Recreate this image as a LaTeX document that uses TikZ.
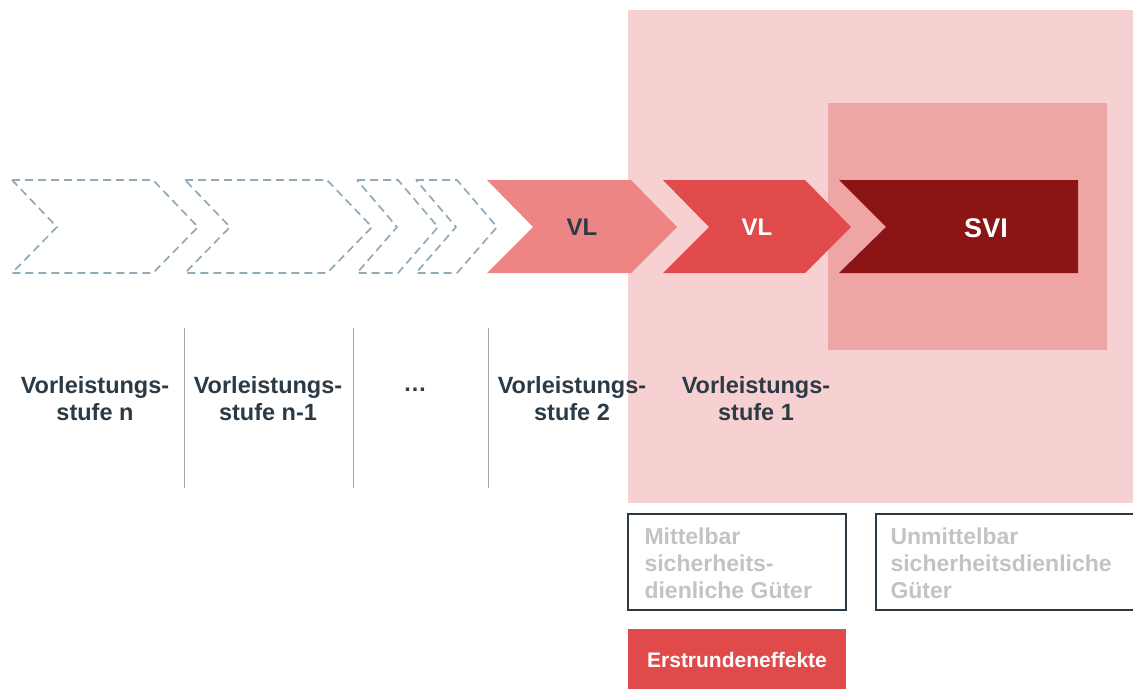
\documentclass[tikz,border=0pt]{standalone}
\usepackage{fontspec}
\setmainfont{Liberation Sans}
\usepackage{tikz}
\usepackage{xcolor}
\definecolor{bgpink}{HTML}{F7D1D2}
\definecolor{midpink}{HTML}{F0A5A5}
\definecolor{lightred}{HTML}{ED8585}
\definecolor{midred}{HTML}{E14A4A}
\definecolor{darkred}{HTML}{8B1515}
\definecolor{slate}{HTML}{2B3A44}
\definecolor{dashblue}{HTML}{8FAAB9}
\definecolor{paletext}{HTML}{C3C3C3}
\newcommand{\chev}[4]{\fill[#4] (#1,180) -- (#2,180) -- (#2+#3,227) -- (#2,273) -- (#1,273) -- (#1+#3,227) -- cycle;}
\newcommand{\dchev}[3]{\draw[dashchev] (#1,180) -- (#2,180) -- (#2+#3,227) -- (#2,273) -- (#1,273) -- (#1+#3,227) -- cycle;}

\begin{document}
\begin{tikzpicture}[x=1pt,y=-1pt,
  dashchev/.style={draw=dashblue,line width=1.7pt,dash pattern=on 8pt off 5pt},
  stagelbl/.style={align=center,text=slate,font=\bfseries\fontsize{23.5}{27}\selectfont},
  goodslbl/.style={anchor=west,align=left,text=paletext,font=\bfseries\fontsize{23}{27}\selectfont},
  sepline/.style={draw=gray!70,line width=0.8pt}]
  \useasboundingbox (0,0) rectangle (1133,689);
  \fill[bgpink] (628,10) rectangle (1133,503); \fill[midpink] (828,103) rectangle (1107,350);
  \dchev{12}{153}{45} \dchev{185}{327}{45} \dchev{357}{398}{40} \dchev{416}{457}{40}
  \chev{487}{631}{46}{lightred} \chev{663}{805}{46}{midred}
  \fill[darkred] (839,180) -- (1078,180) -- (1078,273) -- (839,273) -- (886,227) -- cycle;
  \node[text=slate,font=\bfseries\fontsize{24}{28}\selectfont] (vltwo) at (582,227) {VL};
  \node[text=white,font=\bfseries\fontsize{24}{28}\selectfont] (vlone) at (757,227) {VL};
  \node[text=white,font=\bfseries\fontsize{27}{30}\selectfont] (svi) at (986,228) {SVI};
  \foreach \x in {184,353,488} \draw[sepline] (\x,328) -- (\x,488);
  \node[stagelbl] (stn) at (95,399) {Vorleistungs-\\stufe n};
  \node[stagelbl] (stnm) at (268,399) {Vorleistungs-\\stufe n-1};
  \node[stagelbl] (stdots) at (415,390) {…};
  \node[stagelbl] (sttwo) at (572,399) {Vorleistungs-\\stufe 2};
  \node[stagelbl] (stone) at (756,399) {Vorleistungs-\\stufe 1};
  \draw[slate,line width=2pt] (628,514) rectangle (846,610);
  \draw[slate,line width=2pt] (1136,514) -- (876,514) -- (876,610) -- (1136,610);
  \node[goodslbl] (mittel) at (641,563) {Mittelbar\\sicherheits-\\dienliche Güter};
  \node[goodslbl] (unmittel) at (887,563) {Unmittelbar\\sicherheitsdienliche\\Güter};
  \fill[midred] (628,629) rectangle (846,689);
  \node[text=white,font=\bfseries\fontsize{21}{25}\selectfont] (erst) at (737,660) {Erstrundeneffekte};
\end{tikzpicture}
\end{document}
